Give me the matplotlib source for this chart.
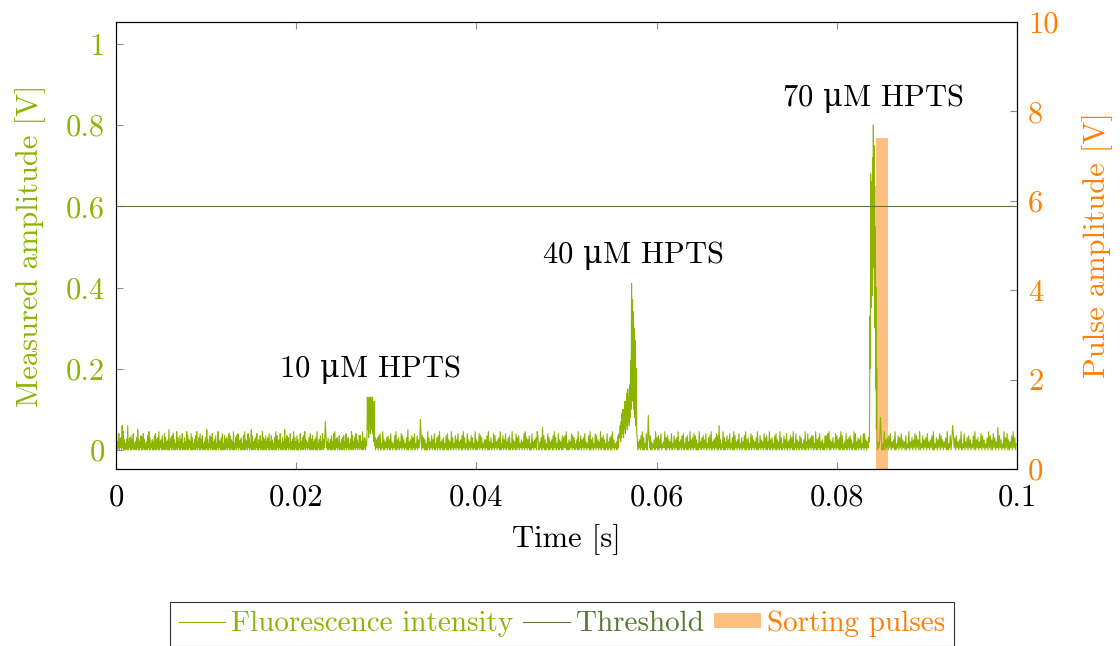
import numpy as np
import matplotlib
matplotlib.use('Agg')
import matplotlib.pyplot as plt
from matplotlib.ticker import FuncFormatter
from matplotlib.lines import Line2D
from matplotlib.patches import Patch

plt.rcParams['font.family'] = ['cmr10', 'DejaVu Serif']
plt.rcParams['axes.formatter.use_mathtext'] = True
plt.rcParams['mathtext.fontset'] = 'custom'
plt.rcParams['mathtext.rm'] = 'DejaVu Serif'

GREEN = '#8cb400'
DARK = '#5a7a32'
ORANGE = '#ff8000'

# segment boundaries of the fluorescence trace [s]
seg_bounds = [0, 0.0278, 0.0288, 0.0559, 0.0579, 0.0836, 0.0845, 0.1]

# baseline noise, base-36 digit d -> (d - 1) * 0.005 V
base_a = ("18152916271d2a1614261d15271816291425172b1615281719261425182a1714261518"
          "2916271a15261814291725161b1527182916142a17251816291427152a1816251917"
          "1426182a15271916281425172b1614281729152618142a1625171914281627152918"
          "16251a1427182915261714281a16251927142b1815261729141628152a1726181527"
          "1915281614271a182516291427152b161827142915261a1725181614291527182a16"
          "2514271916281526171a14261815291627f8251714261815291a1627152814261728"
          "1529162714261a2815271926142818251a162715")
peak_10 = [0.01, 0.03, 0.13, 0.05, 0.12, 0.03, 0.13, 0.06, 0.125, 0.04, 0.13,
           0.05, 0.12, 0.07, 0.13, 0.04, 0.11, 0.02, 0.12, 0.01, 0.03]
base_c = ("16271829142a1615271826192514281a16271529182614271b1526181729142816"
          "25g9182716141a27152816291427182a15261714281916251a2714281629152618"
          "1a27142916251827142a1615291827142616281a15271429182516271a14281629"
          "152718142a1625191728142615291a27162814192516271a8215271c2816142917"
          "1526181a27142916251817282a14161529182714261a15281627192514281a1627"
          "14291826152a17281614291527181a2614251829")
peak_40 = [0.03, 0.06, 0.02, 0.07, 0.03, 0.09, 0.04, 0.10, 0.03, 0.08, 0.05,
           0.12, 0.04, 0.11, 0.06, 0.14, 0.05, 0.15, 0.07, 0.13, 0.06, 0.16,
           0.08, 0.22, 0.10, 0.41, 0.15, 0.37, 0.12, 0.34, 0.10, 0.30, 0.08,
           0.27, 0.06, 0.20, 0.04, 0.03]
base_e = ("1526182a17142916i7281514261a2718162914252a1718261529142816271a1526"
          "1829142718152a1627192816141a25172816291427182a15261729181d26142a17"
          "1528162914271a18251629142715281a16271429182615271a14281625192718152a"
          "162714281916251a2714281629152618271a14291625182714261a15291627182814"
          "2a1617291526141828192a16152714291826171a2814152916271826142a191527"
          "1628142919261527")
peak_70 = [0.02, 0.10, 0.33, 0.20, 0.68, 0.35, 0.66, 0.40, 0.60, 0.38, 0.72,
           0.45, 0.80, 0.50, 0.75, 0.42, 0.65, 0.30, 0.55, 0.15, 0.40, 0.05,
           0.20, 0.02]
base_g = ("1526h8141a1627182915261a14281729162518142a1527162918261a1428162719"
          "2516281a14271629182615271a142816d9271825162a14291527182614281a1627"
          "1529182614271a28161927152c1826142a17291615281a2714")

threshold = 0.6
pulse_t = [0.08502]
pulse_h = [7.4]
pulse_w = 0.00133

labels = [r'10 $\mathrm{\mu}$M HPTS', r'40 $\mathrm{\mu}$M HPTS', r'70 $\mathrm{\mu}$M HPTS']
label_x = [0.0282, 0.0574, 0.0840]
label_y = [0.197, 0.478, 0.866]


def decode(s):
    return [(int(c, 36) - 1) * 0.005 for c in s]


segments = [decode(base_a), peak_10, decode(base_c), peak_40,
            decode(base_e), peak_70, decode(base_g)]
t, v = [], []
for i, seg in enumerate(segments):
    t.append(np.linspace(seg_bounds[i], seg_bounds[i + 1], len(seg), endpoint=False))
    v.append(np.array(seg))
t = np.concatenate(t)
v = np.concatenate(v)

fig = plt.figure(figsize=(11.2, 6.46), dpi=100)
ax = fig.add_axes([0.1036, 0.274, 0.8045, 0.692])
ax2 = ax.twinx()
ax.set_zorder(ax2.get_zorder() + 1)
ax.patch.set_visible(False)

ax2.bar(pulse_t, pulse_h, width=pulse_w, color=ORANGE, alpha=0.5, linewidth=0)
ax.plot(t, v, color=GREEN, lw=0.8)
ax.axhline(threshold, color=DARK, lw=0.8)

for s, x, y in zip(labels, label_x, label_y):
    ax.text(x, y, s, ha='center', va='center', fontsize=22)

ax.set_xlim(0, 0.1)
ax.set_ylim(-0.047, 1.054)
ax2.set_ylim(0, 10)
ax.set_xticks([0, 0.02, 0.04, 0.06, 0.08, 0.1])
ax.set_yticks([0, 0.2, 0.4, 0.6, 0.8, 1])
ax2.set_yticks([0, 2, 4, 6, 8, 10])
fmt = FuncFormatter(lambda x, p: '%g' % x)
ax.xaxis.set_major_formatter(fmt)
ax.yaxis.set_major_formatter(fmt)
ax2.yaxis.set_major_formatter(fmt)

ax.tick_params(axis='x', direction='in', length=5, color='0.55', top=True,
               labelsize=22, pad=11)
ax.tick_params(axis='y', direction='in', length=5, color='0.55',
               labelsize=22, labelcolor=GREEN, pad=8)
ax2.tick_params(axis='y', direction='in', length=5, color='0.55',
                labelsize=22, labelcolor=ORANGE, pad=8)
for a in (ax, ax2):
    for sp in a.spines.values():
        sp.set_linewidth(0.8)

ax.set_xlabel('Time [s]', fontsize=22, labelpad=9)
ax.set_ylabel('Measured amplitude [V]', fontsize=22, color=GREEN, labelpad=14)
ax2.set_ylabel('Pulse amplitude [V]', fontsize=22, color=ORANGE, labelpad=17)

handles = [Line2D([], [], color=GREEN, lw=0.8),
           Line2D([], [], color=DARK, lw=0.8),
           Patch(facecolor=ORANGE, alpha=0.5, linewidth=0)]
leg = fig.legend(handles, ['Fluorescence intensity', 'Threshold', 'Sorting pulses'],
                 loc='lower center', bbox_to_anchor=(0.5015, 0.0), ncol=3,
                 fontsize=21, frameon=True, fancybox=False, edgecolor='black',
                 handlelength=1.6, handleheight=0.4, handletextpad=0.2,
                 columnspacing=0.35, borderpad=0.3, borderaxespad=0.0)
leg.get_frame().set_linewidth(0.8)
for txt, c in zip(leg.get_texts(), [GREEN, DARK, ORANGE]):
    txt.set_color(c)

fig.savefig('out.png', dpi=100)
